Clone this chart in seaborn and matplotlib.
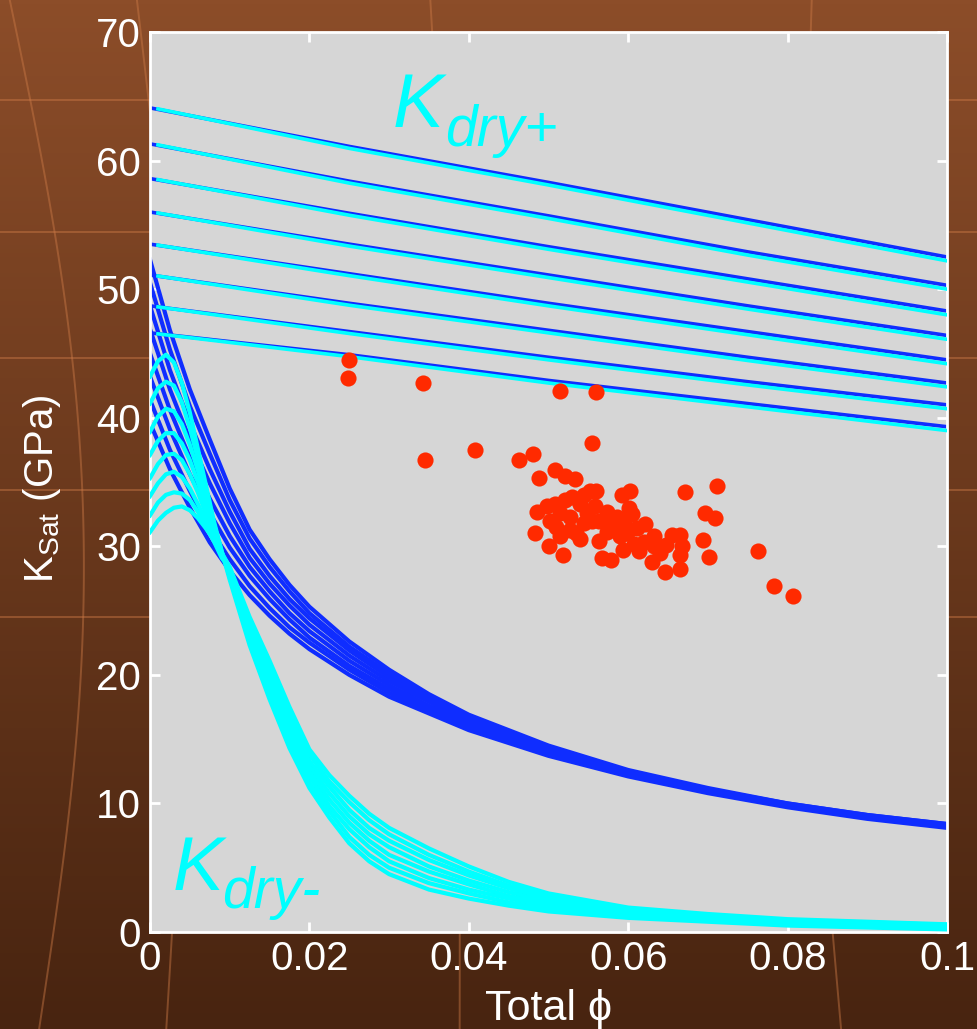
import numpy as np
import pandas as pd
import matplotlib
matplotlib.use("Agg")
import matplotlib.pyplot as plt
from matplotlib.lines import Line2D
import seaborn as sns

# ---------------- data ----------------
# upper bound family (K_dry+): blue K_sat curves and cyan companions
PHI_UP = [0.0, 0.025, 0.05, 0.075, 0.1]
PHI_UP_CYAN = [0.001, 0.025, 0.05, 0.075, 0.1]
KSAT_UP_BLUE = [
    [64.1, 61.1, 58.3, 55.4, 52.5],
    [61.3, 58.4, 55.7, 52.9, 50.3],
    [58.6, 55.9, 53.3, 50.8, 48.3],
    [56.0, 53.5, 51.1, 48.7, 46.4],
    [53.5, 51.2, 48.9, 46.7, 44.5],
    [51.1, 48.9, 46.8, 44.7, 42.7],
    [48.7, 46.7, 44.7, 42.8, 41.0],
    [46.6, 44.9, 42.9, 41.1, 39.3],
]
KSAT_UP_CYAN = [
    [64.02, 60.95, 58.1, 55.15, 52.2],
    [61.22, 58.25, 55.5, 52.65, 50.0],
    [58.52, 55.75, 53.1, 50.55, 48.0],
    [55.92, 53.35, 50.9, 48.45, 46.1],
    [53.42, 51.05, 48.7, 46.45, 44.2],
    [51.02, 48.75, 46.6, 44.45, 42.4],
    [48.62, 46.55, 44.5, 42.55, 40.7],
    [46.52, 44.75, 42.7, 40.85, 39.0],
]

# lower family: blue K_sat curves
PHI_LO_BLUE = [0.0, 0.0025, 0.005, 0.0075, 0.01, 0.0125, 0.015, 0.0175, 0.02,
               0.025, 0.03, 0.035, 0.04, 0.05, 0.06, 0.07, 0.08, 0.09, 0.1]
KSAT_LO_BLUE = [
    [52.3, 46.8, 42.2, 38.3, 34.5, 31.3, 29.0, 27.0, 25.3, 22.6, 20.4, 18.5, 16.9, 14.5, 12.6, 11.2, 10.0, 9.1, 8.4],
    [50.5, 45.3, 40.9, 37.2, 33.6, 30.6, 28.4, 26.5, 24.8, 22.2, 20.1, 18.3, 16.7, 14.4, 12.5, 11.1, 10.0, 9.1, 8.4],
    [48.7, 43.7, 39.6, 36.0, 32.7, 29.8, 27.7, 25.9, 24.4, 21.9, 19.8, 18.1, 16.6, 14.3, 12.5, 11.1, 9.9, 9.0, 8.3],
    [46.9, 42.2, 38.3, 34.9, 31.8, 29.1, 27.1, 25.4, 23.9, 21.5, 19.5, 17.9, 16.4, 14.2, 12.4, 11.0, 9.9, 9.0, 8.3],
    [45.0, 40.6, 36.9, 33.7, 30.8, 28.4, 26.5, 24.8, 23.4, 21.1, 19.2, 17.6, 16.2, 14.0, 12.3, 11.0, 9.9, 9.0, 8.3],
    [43.2, 39.1, 35.6, 32.6, 29.9, 27.7, 25.9, 24.3, 22.9, 20.7, 18.9, 17.4, 16.0, 13.9, 12.2, 10.9, 9.8, 8.9, 8.2],
    [41.4, 37.5, 34.3, 31.4, 29.0, 26.9, 25.2, 23.7, 22.5, 20.4, 18.6, 17.2, 15.9, 13.8, 12.2, 10.9, 9.8, 8.9, 8.2],
    [39.6, 36.0, 33.0, 30.3, 28.1, 26.2, 24.6, 23.2, 22.0, 20.0, 18.3, 17.0, 15.7, 13.7, 12.1, 10.8, 9.7, 8.8, 8.1],
]

# lower family: cyan K_dry- curves
PHI_LO_CYAN = [0.0, 0.001, 0.002, 0.003, 0.004, 0.005, 0.006, 0.007, 0.008, 0.009, 0.01,
               0.0125, 0.015, 0.0175, 0.02, 0.0225, 0.025, 0.0275, 0.03, 0.035, 0.04,
               0.045, 0.05, 0.06, 0.07, 0.08, 0.09, 0.1]
KDRY_LO_CYAN = [
    [43.2, 44.4, 44.9, 44.3, 42.7, 40.4, 37.6, 34.8, 32.0, 29.6, 27.4, 22.3, 18.1, 14.3, 11.2, 8.9, 6.9, 5.5, 4.5, 3.3, 2.6, 2.05, 1.6, 1.1, 0.8, 0.5, 0.35, 0.2],
    [41.1, 42.3, 42.8, 42.5, 41.2, 39.2, 36.8, 34.3, 31.8, 29.6, 27.6, 22.6, 18.5, 14.8, 11.6, 9.4, 7.4, 6.0, 5.0, 3.8, 3.0, 2.3, 1.8, 1.2, 0.9, 0.6, 0.4, 0.25],
    [38.9, 40.1, 40.7, 40.5, 39.5, 37.9, 35.9, 33.7, 31.5, 29.5, 27.8, 22.9, 18.9, 15.2, 12.1, 9.8, 8.0, 6.6, 5.5, 4.2, 3.3, 2.6, 2.0, 1.3, 1.0, 0.6, 0.5, 0.3],
    [37.1, 38.2, 38.8, 38.8, 38.0, 36.7, 35.0, 33.1, 31.2, 29.4, 28.0, 23.2, 19.4, 15.7, 12.5, 10.3, 8.5, 7.1, 6.0, 4.7, 3.7, 2.8, 2.2, 1.4, 1.1, 0.7, 0.55, 0.35],
    [35.3, 36.4, 37.1, 37.2, 36.7, 35.6, 34.2, 32.6, 30.9, 29.3, 28.1, 23.6, 19.8, 16.1, 12.9, 10.8, 9.0, 7.6, 6.6, 5.1, 4.0, 3.1, 2.4, 1.6, 1.1, 0.8, 0.6, 0.45],
    [33.9, 34.9, 35.6, 35.8, 35.4, 34.5, 33.3, 32.0, 30.6, 29.2, 28.2, 23.9, 20.2, 16.6, 13.3, 11.3, 9.5, 8.1, 7.1, 5.6, 4.4, 3.4, 2.6, 1.7, 1.2, 0.9, 0.65, 0.5],
    [32.4, 33.4, 34.0, 34.2, 34.1, 33.6, 32.7, 31.6, 30.4, 29.1, 28.3, 24.2, 20.7, 17.0, 13.8, 11.7, 10.1, 8.7, 7.6, 6.0, 4.7, 3.6, 2.8, 1.8, 1.3, 0.9, 0.75, 0.55],
    [31.1, 32.0, 32.6, 33.0, 33.1, 32.8, 32.2, 31.4, 30.5, 29.5, 28.4, 24.5, 21.1, 17.5, 14.2, 12.2, 10.6, 9.2, 8.1, 6.5, 5.1, 3.9, 3.0, 1.9, 1.4, 1.0, 0.8, 0.6],
]

# measured samples
SAMPLE_PHI = [
    0.0250, 0.0248, 0.0342, 0.0345, 0.0408, 0.0515, 0.0560, 0.0463, 0.0480, 0.0555,
    0.0671, 0.0712, 0.0763, 0.0783, 0.0807,
    0.0508, 0.0521, 0.0533, 0.0488, 0.0552, 0.0560, 0.0592, 0.0602, 0.0601, 0.0696,
    0.0709, 0.0486, 0.0508, 0.0521, 0.0540, 0.0514, 0.0502, 0.0527, 0.0548, 0.0558,
    0.0573, 0.0586, 0.0581, 0.0544, 0.0510, 0.0483, 0.0540, 0.0514, 0.0500, 0.0518,
    0.0563, 0.0573, 0.0590, 0.0598, 0.0611, 0.0621, 0.0632, 0.0594, 0.0613, 0.0567,
    0.0579, 0.0630, 0.0646, 0.0665, 0.0640, 0.0655, 0.0665, 0.0648, 0.0667, 0.0665,
    0.0694, 0.0701, 0.0632, 0.0527, 0.0563, 0.0498, 0.0535, 0.0607, 0.0555, 0.0578,
    0.0595, 0.0605, 0.0588, 0.0620, 0.0530, 0.0545,
]
SAMPLE_K = [
    44.5, 43.1, 42.7, 36.7, 37.5, 42.1, 42.0, 36.7, 37.2, 38.0,
    34.2, 34.7, 29.6, 26.9, 26.1,
    35.9, 35.5, 35.2, 35.3, 34.3, 34.3, 34.0, 34.3, 33.0, 32.6,
    32.2, 32.7, 33.3, 33.6, 33.3, 32.6, 32.0, 32.3, 32.6, 33.1,
    32.7, 32.3, 31.5, 31.8, 31.5, 31.0, 30.6, 30.8, 30.0, 29.3,
    30.4, 31.1, 30.8, 31.0, 31.4, 31.7, 30.8, 29.7, 29.6, 29.1,
    28.9, 28.8, 28.0, 28.2, 29.5, 30.9, 30.9, 30.1, 30.0, 29.3,
    30.5, 29.2, 30.0, 31.3, 32.0, 33.1, 31.0, 30.2, 32.0, 31.8,
    32.0, 32.5, 31.2, 30.3, 33.8, 34.0,
]

X_TICKS = [0, 0.02, 0.04, 0.06, 0.08, 0.1]
X_TICKLABELS = ["0", "0.02", "0.04", "0.06", "0.08", "0.1"]
Y_TICKS = [0, 10, 20, 30, 40, 50, 60, 70]

# ---------------- style ----------------
BLUE = "#0f2dff"
CYAN = "#00ffff"
RED = "#ff2a00"
PANEL = "#d6d6d6"

plt.rcParams["font.family"] = ["Liberation Sans", "DejaVu Sans"]
plt.rcParams["mathtext.fontset"] = "custom"
plt.rcParams["mathtext.rm"] = "Liberation Sans"
plt.rcParams["mathtext.it"] = "Liberation Sans:italic"


def family_frame(grid, curves):
    rows = []
    for cid, vals in enumerate(curves):
        for p, k in zip(grid, vals):
            rows.append((cid, p, k))
    return pd.DataFrame(rows, columns=["curve", "phi", "K"])


fig = plt.figure(figsize=(9.78, 10.29), dpi=100)

# brown backdrop
bg = fig.add_axes([0, 0, 1, 1], zorder=-10)
grad = np.linspace(0, 1, 256)[:, None]
top = np.array([140, 77, 41]) / 255
bot = np.array([72, 36, 16]) / 255
img = top[None, None, :] * (1 - grad[..., None]) + bot[None, None, :] * grad[..., None]
img = np.repeat(img, 4, axis=1)
bg.imshow(img, aspect="auto", extent=[0, 1, 0, 1], origin="upper")
deco = (0.80, 0.48, 0.28)
for yy in [0.903, 0.775, 0.652, 0.524, 0.40]:
    bg.add_line(Line2D([0, 1], [yy, yy], color=deco, lw=1.4, alpha=0.45))
tt = np.linspace(0, 1, 100)
for x0, bend in [(0.04, 0.06), (0.17, 0.03), (0.47, 0.01), (0.86, -0.02), (1.12, -0.06)]:
    bg.add_line(Line2D(x0 + bend * np.sin(np.pi * tt) - 0.03 * tt, tt, color=deco, lw=1.4, alpha=0.45))
bg.set_xlim(0, 1)
bg.set_ylim(0, 1)
bg.axis("off")

ax = fig.add_axes([150 / 978, 97 / 1029, 797 / 978, 900 / 1029])
ax.set_facecolor(PANEL)

df_lo_blue = family_frame(PHI_LO_BLUE, KSAT_LO_BLUE)
df_lo_cyan = family_frame(PHI_LO_CYAN, KDRY_LO_CYAN)
df_up_blue = family_frame(PHI_UP, KSAT_UP_BLUE)
df_up_cyan = family_frame(PHI_UP_CYAN, KSAT_UP_CYAN)

common = dict(x="phi", y="K", units="curve", estimator=None, sort=False, ax=ax, legend=False)
sns.lineplot(data=df_lo_blue, color=BLUE, lw=3.0, zorder=2, **common)
sns.lineplot(data=df_up_blue, color=BLUE, lw=2.6, zorder=2, **common)
sns.lineplot(data=df_up_cyan, color=CYAN, lw=2.6, zorder=3, **common)
sns.lineplot(data=df_lo_cyan, color=CYAN, lw=3.0, zorder=3, **common)
sns.scatterplot(x=SAMPLE_PHI, y=SAMPLE_K, color=RED, s=135, linewidth=0, zorder=5, ax=ax, legend=False)

ax.set_xlim(0, 0.1)
ax.set_ylim(0, 70)
ax.set_xticks(X_TICKS)
ax.set_xticklabels(X_TICKLABELS)
ax.set_yticks(Y_TICKS)
ax.tick_params(direction="in", length=7, width=2, colors="white", top=True, right=True,
               labelsize=29)
ax.tick_params(axis="x", pad=6)
ax.tick_params(axis="y", pad=6.5)
for sp in ax.spines.values():
    sp.set_color("white")
    sp.set_linewidth(2)

ax.set_xlabel("Total \u03d5", color="white", fontsize=31, labelpad=8)
ax.set_ylabel(r"K$_{\mathrm{Sat}}$ (GPa)", color="white", fontsize=29, labelpad=24)
ax.yaxis.label.set_y(0.493)

# curve family labels
ax.text(0.0305, 62.6, "K", style="italic", fontsize=55, color=CYAN, va="baseline", zorder=6)
ax.text(0.0370, 61.1, "dry+", style="italic", fontsize=41, color=CYAN, va="baseline", zorder=6)
ax.text(0.0029, 3.3, "K", style="italic", fontsize=55, color=CYAN, va="baseline", zorder=6)
ax.text(0.0090, 1.9, "dry-", style="italic", fontsize=41, color=CYAN, va="baseline", zorder=6)

fig.savefig("out.png", dpi=100)
